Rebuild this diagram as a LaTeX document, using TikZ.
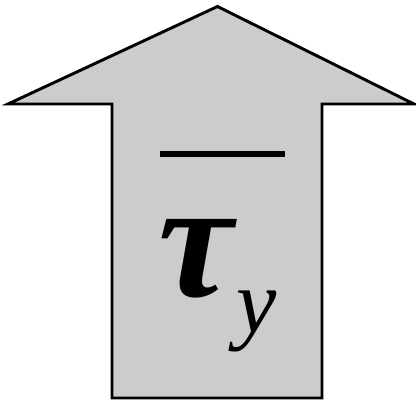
\documentclass[tikz,border=0pt]{standalone}
\usepackage{fontspec}
\setmainfont{Liberation Serif}
\usetikzlibrary{positioning}
\definecolor{shaft}{RGB}{204,204,204}

\begin{document}
\begin{tikzpicture}[x=0.75pt,y=-0.75pt,
    outline/.style={draw=black,fill=shaft,line width=2.2pt,line join=miter},
    sym/.style={inner sep=0pt,text=black}]
    \useasboundingbox (0,0) rectangle (416,407);
    \draw[outline] (217.5,6.5) -- (414,104) -- (322,104) -- (322,398) -- (112,398)
        -- (112,104) -- (8,104) -- cycle;
    \coordinate (barl) at (160,154);
    \coordinate (barr) at (285,154);
    \draw[line width=4.8pt] (barl) -- (barr);
    \node[sym,font=\fontsize{126}{126}\selectfont\bfseries\itshape] (tau) at (196,259) {τ};
    \node[sym,font=\fontsize{68}{68}\selectfont\itshape] (sub) at (257,321) {y};
\end{tikzpicture}
\end{document}
